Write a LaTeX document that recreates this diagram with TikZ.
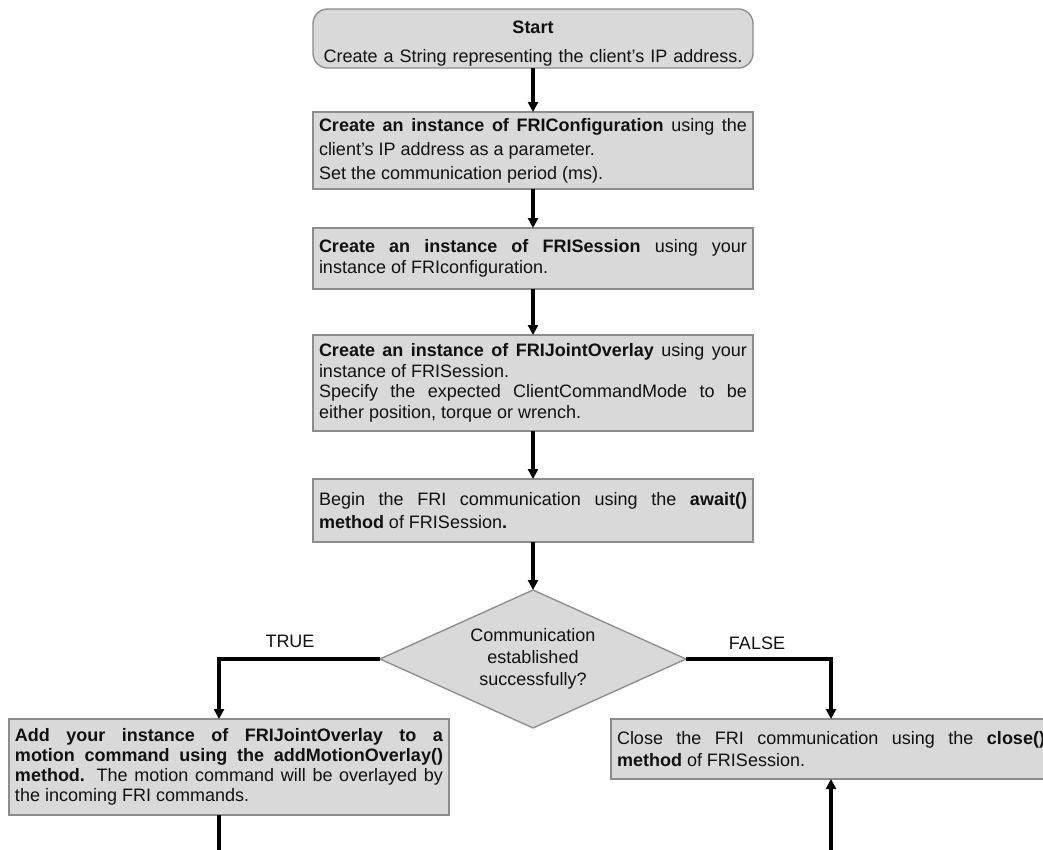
\documentclass[tikz,border=0pt]{standalone}
\usepackage{fontspec}
\setmainfont{Liberation Sans}
\usetikzlibrary{arrows.meta,shapes.geometric}
\setlength{\parindent}{0pt}
\hyphenpenalty=10000
\exhyphenpenalty=10000
\emergencystretch=2em
\definecolor{boxfill}{HTML}{D9D9D9}
\definecolor{boxline}{HTML}{8C8C8C}
\definecolor{ink}{HTML}{111111}

\begin{document}
\begin{tikzpicture}[x=0.75pt,y=-0.75pt,
  every node/.style={text=ink},
  stepbox/.style={draw=boxline, fill=boxfill, line width=1pt,
    minimum width=330pt, text width=321pt, inner xsep=4.5pt, inner ysep=0pt,
    outer sep=0pt, align=justify},
  startbox/.style={stepbox, rounded corners=11pt, align=center},
  decision/.style={diamond, draw=boxline, fill=boxfill, line width=1pt,
    minimum width=229.5pt, minimum height=103.5pt, inner sep=0pt, outer sep=0pt},
  flow/.style={draw=black, line width=2.5pt, -{Triangle[length=7.5pt,width=7.5pt]}},
  plain/.style={draw=black, line width=2.5pt},
  branch/.style={font=\fontsize{13.5}{16}\selectfont}
]
\useasboundingbox (0,0) rectangle (1043,850);

% main column of steps
\node[startbox, minimum height=44.25pt, font=\fontsize{13.5}{21.5}\selectfont]
  (start) at (533,38.5)
  {\rule{0pt}{17pt}\textbf{Start}\\Create a String representing the client’s IP address.};

\node[stepbox, minimum height=57.75pt, font=\fontsize{13.5}{18}\selectfont]
  (cfg) at (533,150.5)
  {\textbf{Create an instance of FRIConfiguration} using the\linebreak
   client’s IP address as a parameter.\par
   Set the communication period (ms).};

\node[stepbox, minimum height=45.75pt, font=\fontsize{13.5}{16}\selectfont]
  (sess) at (533,258.5)
  {\textbf{Create an instance of FRISession} using your\linebreak
   instance of FRIconfiguration.};

\node[stepbox, minimum height=72pt, font=\fontsize{13.5}{15.5}\selectfont]
  (ovl) at (533,383)
  {\textbf{Create an instance of FRIJointOverlay} using your\linebreak
   instance of FRISession.\par
   Specify the expected ClientCommandMode to be\linebreak
   either position, torque or wrench.};

\node[stepbox, minimum height=47.25pt, font=\fontsize{13.5}{17}\selectfont]
  (await) at (533,510.5)
  {Begin the FRI communication using the \textbf{await()}\linebreak
   \textbf{method} of FRISession\textbf{.}};

% decision
\node[decision] (dec) at (533,659) {};
\node[align=center, inner sep=0pt, font=\fontsize{13.5}{16.5}\selectfont]
  (dectext) at (dec.center) {Communication\\established\\successfully?};

% branches
\node[stepbox, minimum height=72pt, font=\fontsize{13.5}{15}\selectfont]
  (addovl) at (229,767)
  {\textbf{Add your instance of FRIJointOverlay to a}\linebreak
   \textbf{motion command using the addMotionOverlay()}\linebreak
   \textbf{method.} The motion command will be overlayed by\linebreak
   the incoming FRI commands.};

\node[stepbox, minimum height=45pt, font=\fontsize{13.5}{16.5}\selectfont]
  (close) at (831,749)
  {Close the FRI communication using the \textbf{close()}\linebreak
   \textbf{method} of FRISession.};

\node[branch] (truelbl) at (290,641) {TRUE};
\node[branch] (falselbl) at (757,643) {FALSE};

% connectors
\draw[flow] (start.south) -- (cfg.north);
\draw[flow] (cfg.south) -- (sess.north);
\draw[flow] (sess.south) -- (ovl.north);
\draw[flow] (ovl.south) -- (await.north);
\draw[flow] (await.south) -- (dec.north);

\coordinate (truein) at ([xshift=-7.5pt]addovl.north);
\coordinate (trueout) at ([xshift=-7.5pt]addovl.south);
\coordinate (leftend) at (219,850);
\coordinate (rightend) at (831,850);

\draw[flow] (dec.west) -| (truein);
\draw[flow] (dec.east) -| (close.north);
\draw[plain] (trueout) -- (leftend);
\draw[flow] (rightend) -- (close.south);
\end{tikzpicture}
\end{document}
